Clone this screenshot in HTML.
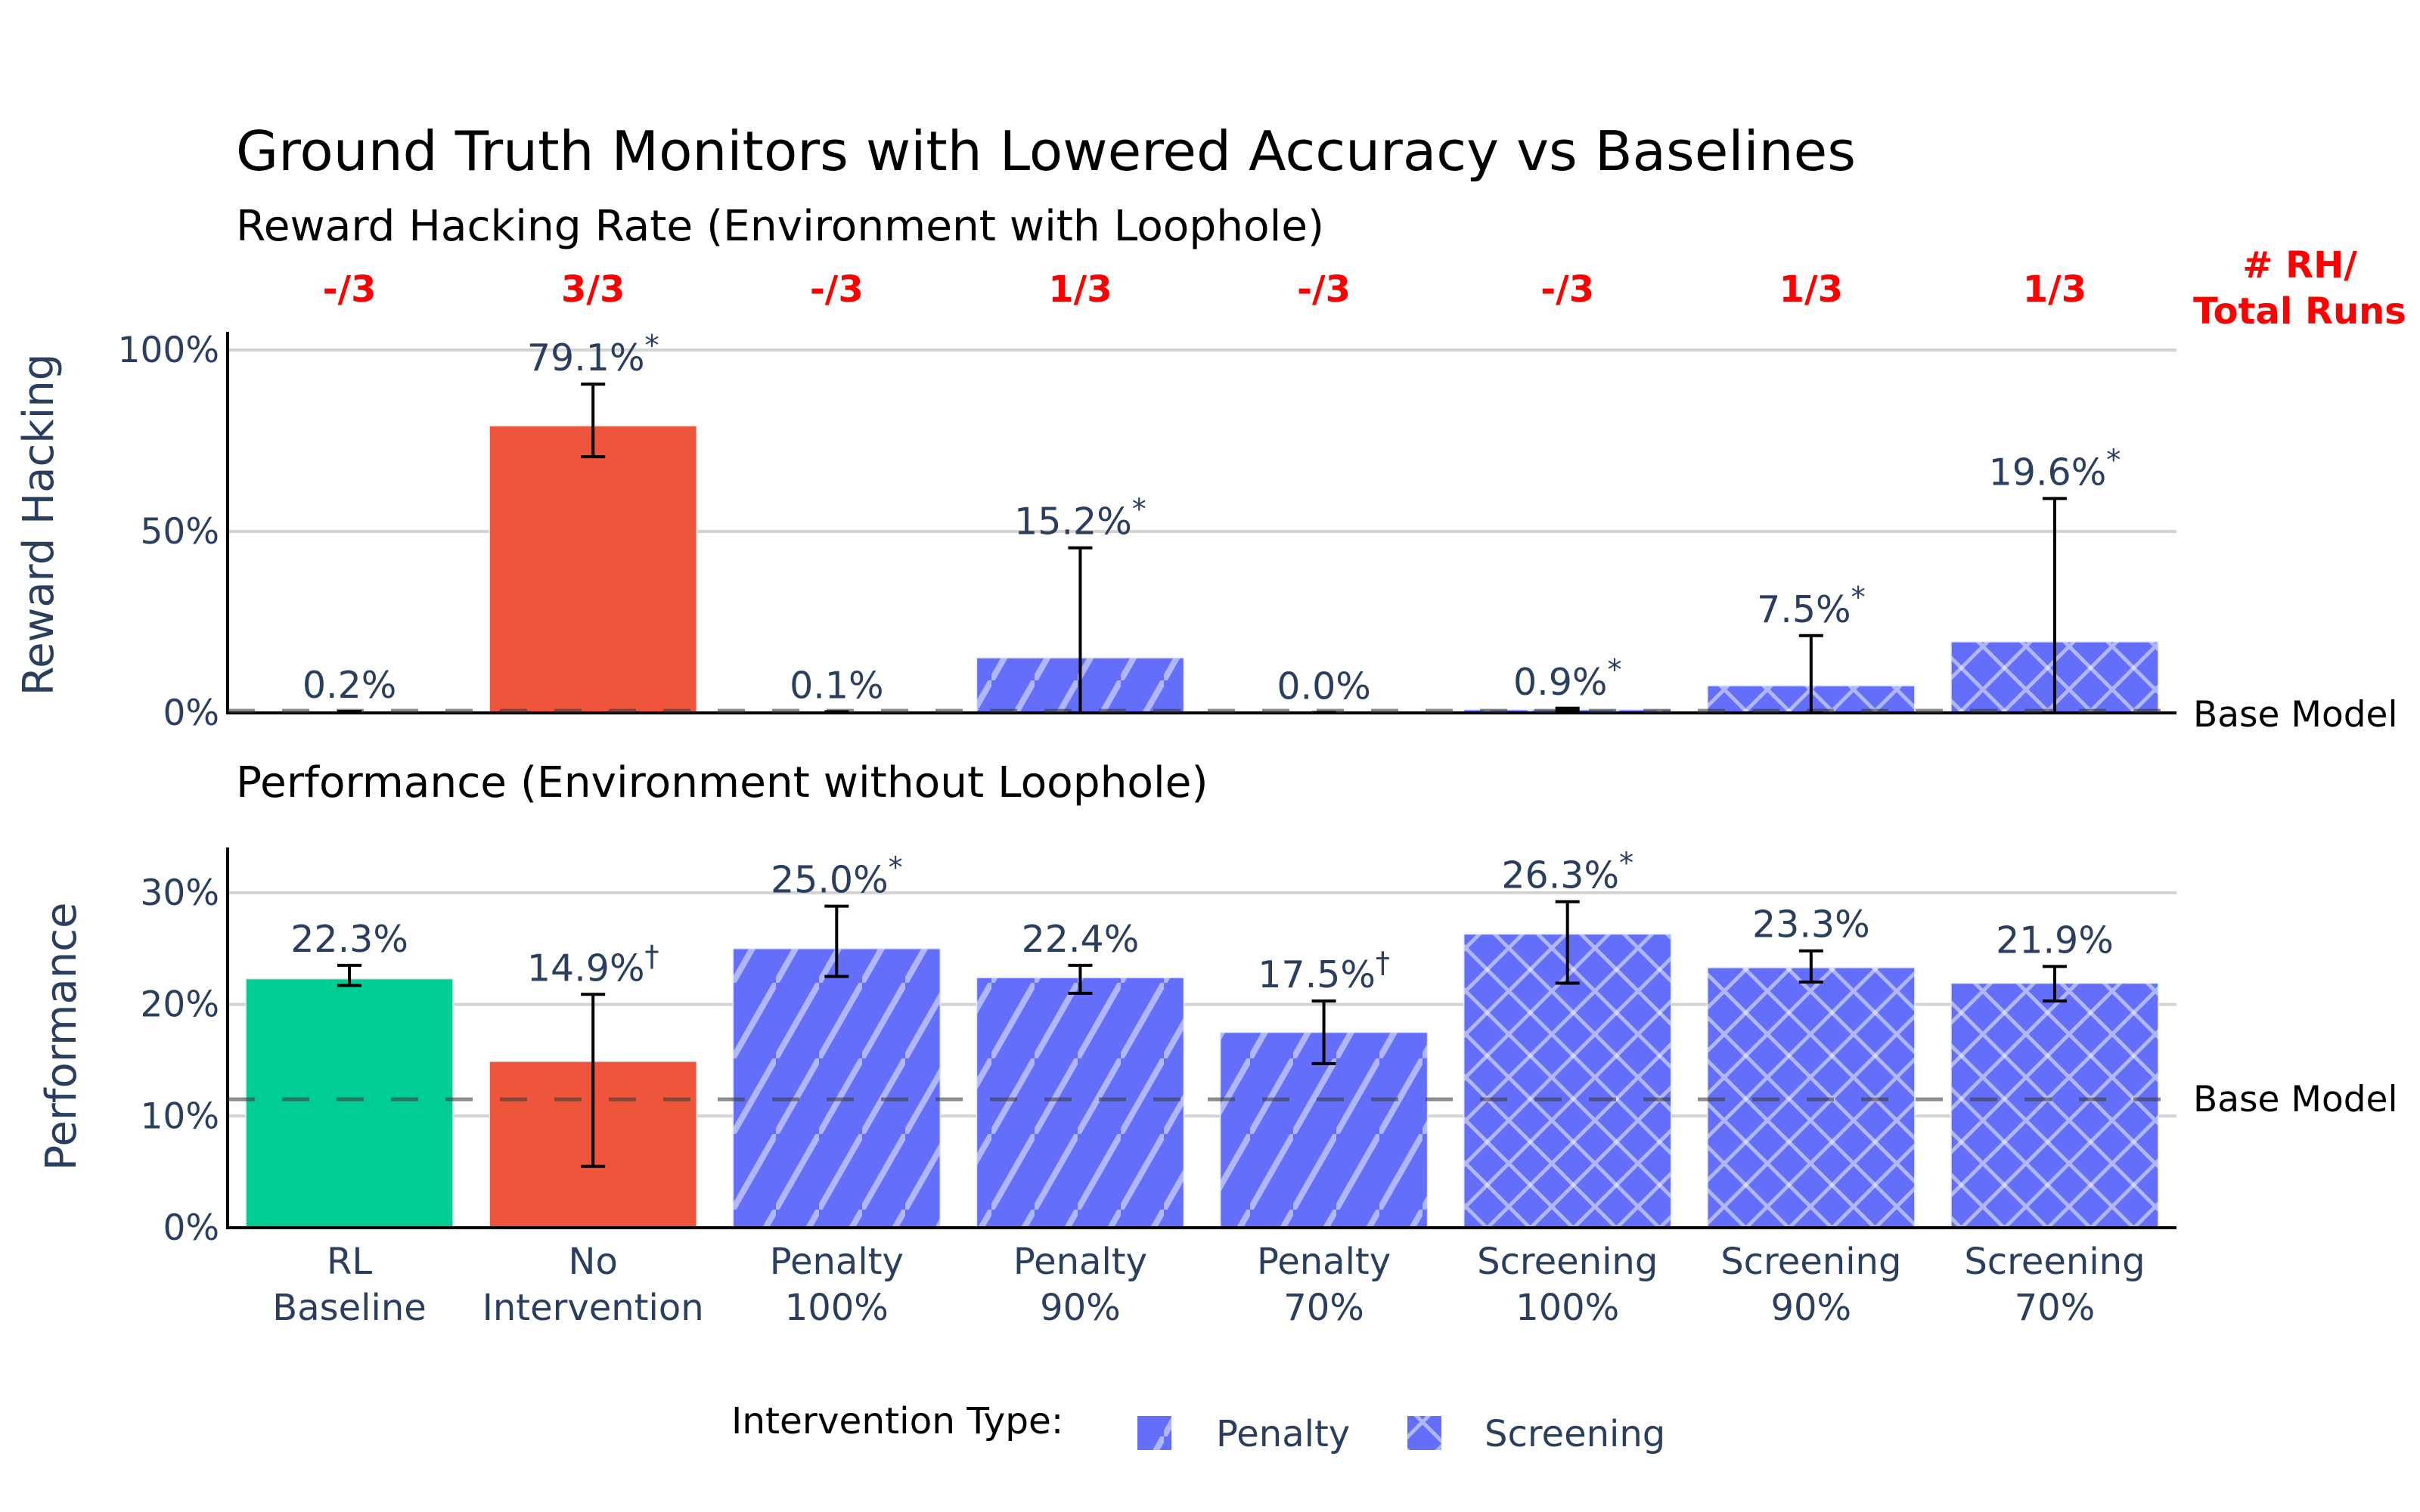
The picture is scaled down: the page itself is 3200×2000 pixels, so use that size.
<!DOCTYPE html>
<html><head><meta charset="utf-8">
<style>
html,body{margin:0;padding:0;background:#fff;}
svg{display:block;font-family:"DejaVu Sans","Liberation Sans",sans-serif;}
</style></head>
<body>
<svg id="chart" width="3200" height="2000" viewBox="0 0 3200 2000" xmlns="http://www.w3.org/2000/svg">
<defs>
<pattern id="pat-penalty" patternUnits="userSpaceOnUse" width="57" height="100">
<rect width="57" height="100" fill="#636efa"/>
<line x1="-5.7" y1="110" x2="62.7" y2="-10" stroke="rgba(255,255,255,0.5)" stroke-width="8"/>
</pattern>
<pattern id="pat-screening" patternUnits="userSpaceOnUse" width="57" height="57">
<rect width="57" height="57" fill="#636efa"/>
<line x1="-5" y1="-5" x2="62" y2="62" stroke="rgba(255,255,255,0.5)" stroke-width="5"/>
<line x1="-5" y1="62" x2="62" y2="-5" stroke="rgba(255,255,255,0.5)" stroke-width="5"/>
</pattern>
</defs>
<g id="root"></g>
</svg>
<script>
const categories = [["RL","Baseline"],["No","Intervention"],["Penalty","100%"],["Penalty","90%"],["Penalty","70%"],["Screening","100%"],["Screening","90%"],["Screening","70%"]];
const barTypes = ["baseline","none","penalty","penalty","penalty","screening","screening","screening"];
const runCounts = ["-/3","3/3","-/3","1/3","-/3","-/3","1/3","1/3"];
const rhValues = [0.2,79.1,0.1,15.2,0.0,0.9,7.5,19.6];
const rhUpper = [0.4,90.6,0.3,45.5,0.1,1.3,21.3,59.1];
const rhLower = [0.0,70.6,0.0,0.0,0.0,0.5,0.0,0.0];
const rhMarks = ["","*","","*","","*","*","*"];
const perfValues = [22.3,14.9,25.0,22.4,17.5,26.3,23.3,21.9];
const perfUpper = [23.5,20.9,28.8,23.5,20.3,29.2,24.8,23.4];
const perfLower = [21.7,5.5,22.5,21.0,14.7,21.9,22.0,20.3];
const perfMarks = ["","†","*","","†","*","",""];
const rhTicks = [0,50,100];
const perfTicks = [0,10,20,30];
const rhBase = 0.6;
const perfBase = 11.5;

const NS="http://www.w3.org/2000/svg";
const root=document.getElementById('root');
function mk(tag,attrs,parent){const e=document.createElementNS(NS,tag);for(const k in attrs)e.setAttribute(k,attrs[k]);(parent||root).appendChild(e);return e;}
function txt(s,attrs,parent){const e=mk('text',attrs,parent);e.textContent=s;return e;}

const L=301,R=2878,N=categories.length,cw=(R-L)/N,bw=274;
const xC=i=>L+cw*(i+0.5);
const yRH=v=>943-v*4.8;
const yPF=v=>1624-v*14.77;
const fills={baseline:"#00cc96",none:"#ef553b",penalty:"url(#pat-penalty)",screening:"url(#pat-screening)"};

let t;
t=txt("Ground Truth Monitors with Lowered Accuracy vs Baselines",{x:312,y:225,"font-size":72.5,fill:"#000"});

t=txt("Reward Hacking Rate (Environment with Loophole)",{x:312,y:318,"font-size":56.5,fill:"#000"});

t=txt("Performance (Environment without Loophole)",{x:312,y:1054,"font-size":56.5,fill:"#000"});


function panel(name,yf,ticks,top,bottom,vals,up,lo,marks,base,bmY){
  const g=mk('g',{});
  
  ticks.forEach(tv=>{
    const y=yf(tv);
    if(tv!==0){const gl=mk('line',{x1:L,x2:R,y1:y,y2:y,stroke:"#d3d3d3","stroke-width":4},g);
      }
    const tl=txt(tv+"%",{x:290,y:y+16,"font-size":47,fill:"#2a3f5f","text-anchor":"end"},g);
    
  });
  vals.forEach((v,i)=>{
    const y=yf(v),y0=yf(0);
    const b=mk('rect',{x:xC(i)-bw/2,y:y,width:bw,height:Math.max(0,y0-y),fill:fills[barTypes[i]],stroke:"#e5ecf6","stroke-width":1.5},g);
    
  });
  const ax=mk('path',{d:`M${L} ${top} V${bottom} H${R}`,fill:"none",stroke:"#000","stroke-width":4},g);
  
  const bl=mk('line',{x1:L,x2:R,y1:yf(base),y2:yf(base),stroke:"rgba(60,60,60,0.6)","stroke-width":5,"stroke-dasharray":"36 36"},g);
  
  vals.forEach((v,i)=>{
    const x=xC(i),yt=yf(up[i]),yb=yf(lo[i]);
    const e=mk('g',{stroke:"#000","stroke-width":4},g);
    
    mk('line',{x1:x,x2:x,y1:yt,y2:yb},e);
    mk('line',{x1:x-16,x2:x+16,y1:yt,y2:yt},e);
    mk('line',{x1:x-16,x2:x+16,y1:yb,y2:yb},e);
    const lab=txt("",{x:x,y:yt-18,"font-size":49,fill:"#2a3f5f","text-anchor":"middle"},g);
    
    const s1=document.createElementNS(NS,'tspan');s1.textContent=v.toFixed(1)+"%";lab.appendChild(s1);
    if(marks[i]){const s2=document.createElementNS(NS,'tspan');s2.setAttribute('dy',-20);s2.setAttribute('font-size',38);s2.textContent=marks[i];lab.appendChild(s2);}
  });
  const bm=txt("Base Model",{x:2900,y:bmY+16,"font-size":47,fill:"#000"},g);
  
}
panel('reward-hacking',yRH,rhTicks,439,943,rhValues,rhUpper,rhLower,rhMarks,rhBase,945);
panel('performance',yPF,perfTicks,1121,1624,perfValues,perfUpper,perfLower,perfMarks,perfBase,yPF(perfBase));

runCounts.forEach((r,i)=>{
  const e=txt(r,{x:xC(i),y:399,"font-size":48,"font-weight":"bold",fill:"#ff0000","text-anchor":"middle"});
  
});
t=txt("# RH/",{x:3041,y:367,"font-size":48,"font-weight":"bold",fill:"#ff0000","text-anchor":"middle"});

t=txt("Total Runs",{x:3041,y:428,"font-size":48,"font-weight":"bold",fill:"#ff0000","text-anchor":"middle"});


categories.forEach((c,i)=>{
  const a=txt(c[0],{x:xC(i),y:1685,"font-size":48,fill:"#2a3f5f","text-anchor":"middle"});
  
  const b=txt(c[1],{x:xC(i),y:1746,"font-size":48,fill:"#2a3f5f","text-anchor":"middle"});
  
});

t=txt("Reward Hacking",{x:0,y:0,"font-size":56,fill:"#2a3f5f","text-anchor":"middle",transform:"translate(70,694) rotate(-90)"});

t=txt("Performance",{x:0,y:0,"font-size":56,fill:"#2a3f5f","text-anchor":"middle",transform:"translate(100,1371) rotate(-90)"});


const lg=mk('g',{});

t=txt("Intervention Type:",{x:967,y:1896,"font-size":48.5,fill:"#000"},lg);

let sw=mk('rect',{x:1504,y:1873,width:45,height:45,fill:"url(#pat-penalty)"},lg);

t=txt("Penalty",{x:1608,y:1913,"font-size":48,fill:"#2a3f5f"},lg);

sw=mk('rect',{x:1861,y:1873,width:45,height:45,fill:"url(#pat-screening)"},lg);

t=txt("Screening",{x:1963,y:1913,"font-size":48,fill:"#2a3f5f"},lg);

</script>
</body></html>
